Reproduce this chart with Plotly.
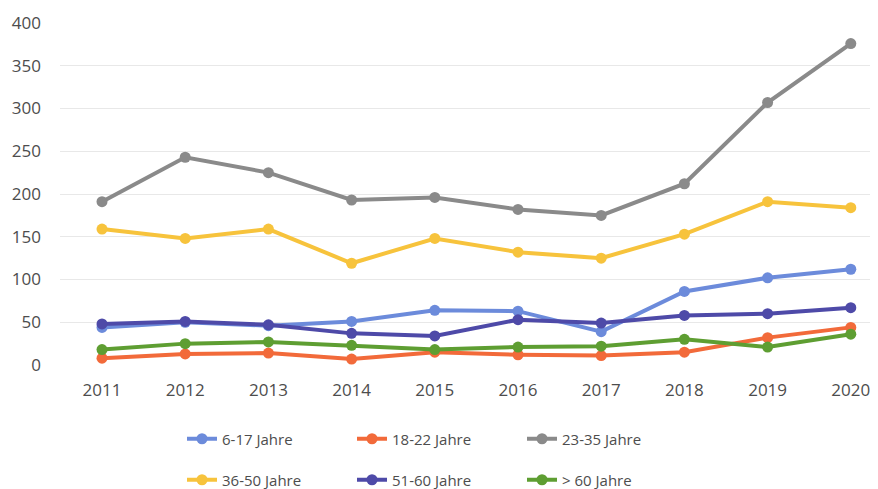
import plotly.graph_objects as go

years = ["2011", "2012", "2013", "2014", "2015", "2016", "2017", "2018", "2019", "2020"]
s_6_17 = [44, 50, 46, 51, 64, 63, 39, 86, 102, 112]
s_18_22 = [8, 13, 14, 7, 15, 12, 11, 15, 32, 44]
s_23_35 = [191, 243, 225, 193, 196, 182, 175, 212, 307, 376]
s_36_50 = [159, 148, 159, 119, 148, 132, 125, 153, 191, 184]
s_51_60 = [48, 51, 47, 37, 34, 53, 49, 58, 60, 67]
s_60p = [18, 25, 27, 23, 18, 21, 22, 30, 21, 36]

names = ["6-17 Jahre", "18-22 Jahre", "23-35 Jahre", "36-50 Jahre", "51-60 Jahre", "> 60 Jahre"]
series = [s_6_17, s_18_22, s_23_35, s_36_50, s_51_60, s_60p]
colors = ["#6C8BDB", "#F26A3A", "#8A8A8A", "#F7C33C", "#4E4AA8", "#5E9E32"]
legends = ["legend", "legend", "legend", "legend2", "legend2", "legend2"]

W, H = 870, 481  # page body adds an 8px offset

fig = go.Figure()
for n, s, c, lg in zip(names, series, colors, legends):
    fig.add_trace(go.Scatter(
        x=years, y=s, name=n, mode="lines+markers",
        line=dict(color=c, width=4),
        marker=dict(color=c, size=11),
        cliponaxis=False, legend=lg,
    ))

font = dict(family="Open Sans, Noto Sans, sans-serif", size=17, color="#4D4D4D")
lfont = dict(family="Open Sans, Noto Sans, sans-serif", size=15, color="#4D4D4D")
leg_common = dict(orientation="h", xref="container", yref="container",
                  xanchor="left", yanchor="middle", entrywidth=125,
                  font=lfont, bgcolor="rgba(0,0,0,0)", itemwidth=30,
                  traceorder="normal")

fig.update_layout(
    width=W, height=H,
    margin=dict(l=52, r=0, t=15, b=124),
    paper_bgcolor="white", plot_bgcolor="white",
    font=font,
    xaxis=dict(type="category", range=[-0.505, 9.327], showgrid=False,
               showline=False, zeroline=False, ticks="", tickfont=font,
               ticklabelstandoff=13),
    yaxis=dict(range=[0, 400], dtick=50, showgrid=True, gridcolor="#E8E8E8",
               gridwidth=1, zeroline=False, showline=False, ticks="",
               tickfont=font, ticklabelstandoff=18),
    legend=dict(x=174 / W, y=1 - 431 / H, **leg_common),
    legend2=dict(x=174 / W, y=1 - 472 / H, **leg_common),
)

fig.write_html("out.html")
